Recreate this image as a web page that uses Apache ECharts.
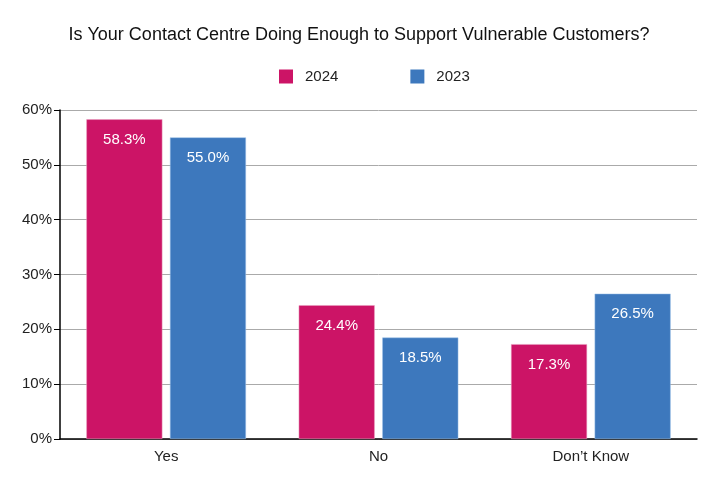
<!DOCTYPE html>
<html><head><meta charset="utf-8">
<script src="https://cdn.jsdelivr.net/npm/echarts@6/dist/echarts.min.js"></script>
<style>html,body{margin:0;padding:0;background:#fff}#c{width:718px;height:490px}</style>
</head><body><div id="c"></div>
<script>
var categories = ['Yes', 'No', 'Don\u2019t Know'];
var values2024 = [58.3, 24.4, 17.3];
var values2023 = [55.0, 18.5, 26.5];
var seriesNames = ['2024', '2023'];
var FONT = 'Liberation Sans, sans-serif';
var chart = echarts.init(document.getElementById('c'));
function lbl() {
  return {show: true, position: 'insideTop', distance: 13, color: '#fff', fontSize: 15, fontFamily: FONT,
    formatter: function (p) { return p.value.toFixed(1) + '%'; }};
}
chart.setOption({
  animation: false,
  textStyle: {fontFamily: FONT},
  title: {text: 'Is Your Contact Centre Doing Enough to Support Vulnerable Customers?', left: 'center', top: 21,
    textStyle: {fontSize: 18, fontWeight: 'normal', color: '#111', fontFamily: FONT}},
  legend: {data: seriesNames, top: 64, left: 274, itemWidth: 14, itemHeight: 14, itemGap: 72, icon: 'rect',
    itemStyle: {borderWidth: 0},
    textStyle: {fontSize: 15, color: '#222', fontFamily: FONT, padding: [0, 0, 0, 7]}},
  grid: {left: 60, right: 21, top: 110, bottom: 51, containLabel: false},
  xAxis: {type: 'category', data: categories,
    axisLine: {lineStyle: {color: '#000', width: 1.5}}, axisTick: {show: false},
    axisLabel: {color: '#222', fontSize: 15, margin: 10, fontFamily: FONT}},
  yAxis: {type: 'value', min: 0, max: 60, interval: 10,
    axisLine: {show: true, lineStyle: {color: '#000', width: 1.5}},
    axisTick: {show: true, length: 6, lineStyle: {color: '#000'}},
    splitLine: {lineStyle: {color: '#aaa', width: 1}},
    axisLabel: {formatter: '{value}%', color: '#222', fontSize: 15, margin: 8, fontFamily: FONT}},
  series: [
    {name: seriesNames[0], type: 'bar', data: values2024, barWidth: 76, barGap: '10%',
      itemStyle: {color: '#CC1466', borderColor: '#e8a0c0', borderWidth: 0.5}, label: lbl()},
    {name: seriesNames[1], type: 'bar', data: values2023, barWidth: 76,
      itemStyle: {color: '#3D78BD', borderColor: '#9cc0e8', borderWidth: 0.5}, label: lbl()}
  ]
});
</script></body></html>
